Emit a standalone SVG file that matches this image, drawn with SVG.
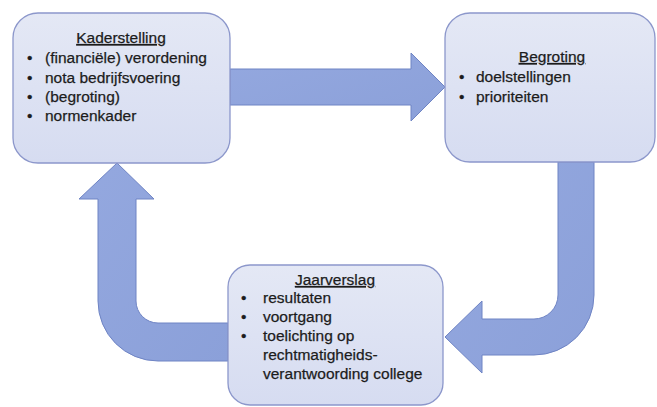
<svg xmlns="http://www.w3.org/2000/svg" width="657" height="407" viewBox="0 0 657 407">
<defs>
<linearGradient id="boxGrad" x1="0" y1="0" x2="0" y2="1">
<stop offset="0" stop-color="#e4e8f5"/>
<stop offset="1" stop-color="#d6dcf1"/>
</linearGradient>
<linearGradient id="arrGrad" x1="0" y1="0" x2="1" y2="1">
<stop offset="0" stop-color="#94a8df"/>
<stop offset="1" stop-color="#8ba0d9"/>
</linearGradient>
</defs>
<style>
.box{fill:url(#boxGrad);stroke:#8c97cb;stroke-width:1.3}
.arrow{fill:url(#arrGrad);stroke:#6f84c4;stroke-width:1}
text{font-family:"Liberation Sans",Arial,sans-serif;font-size:15.5px;fill:#1c1c1c;stroke:#1c1c1c;stroke-width:0.25}
.title{text-anchor:middle;text-decoration:underline}
</style>
<rect width="657" height="407" fill="#ffffff"/>
<g id="connectors">
<path class="arrow" d="M230,69 L411,69 L411,53 L445,87 L411,121 L411,105 L230,105 Z"/>
<path class="arrow" d="M558,162 L558,295 A24,24 0 0 1 534,319 L482,319 L482,301 L445,337 L482,373 L482,355 L534,355 A60,60 0 0 0 594,295 L594,162 Z"/>
<path class="arrow" d="M228,323 L158,323 A22,22 0 0 1 136,301 L136,199 L154,199 L117,163 L79,199 L98,199 L98,301 A60,60 0 0 0 158,361 L228,361 Z"/>
</g>
<g id="kaderstelling">
<rect class="box" x="13" y="13" width="217" height="150" rx="25" ry="25"/>
<text class="title" x="121" y="43">Kaderstelling</text>
<text x="27" y="63">•</text><text x="45" y="63">(financiële) verordening</text>
<text x="27" y="83">•</text><text x="45" y="83">nota bedrijfsvoering</text>
<text x="27" y="102">•</text><text x="45" y="102">(begroting)</text>
<text x="27" y="121">•</text><text x="45" y="121">normenkader</text>
</g>
<g id="begroting">
<rect class="box" x="445" y="13" width="210" height="149" rx="25" ry="25"/>
<text class="title" x="552" y="62">Begroting</text>
<text x="459" y="82">•</text><text x="476" y="82">doelstellingen</text>
<text x="459" y="102">•</text><text x="476" y="102">prioriteiten</text>
</g>
<g id="jaarverslag">
<rect class="box" x="228" y="265" width="215" height="140" rx="22" ry="22"/>
<text class="title" x="335" y="285">Jaarverslag</text>
<text x="241" y="303">•</text><text x="263" y="303">resultaten</text>
<text x="241" y="322">•</text><text x="263" y="322">voortgang</text>
<text x="241" y="341">•</text><text x="263" y="341">toelichting op</text>
<text x="263" y="360">rechtmatigheids-</text>
<text x="263" y="379">verantwoording college</text>
</g>
</svg>
